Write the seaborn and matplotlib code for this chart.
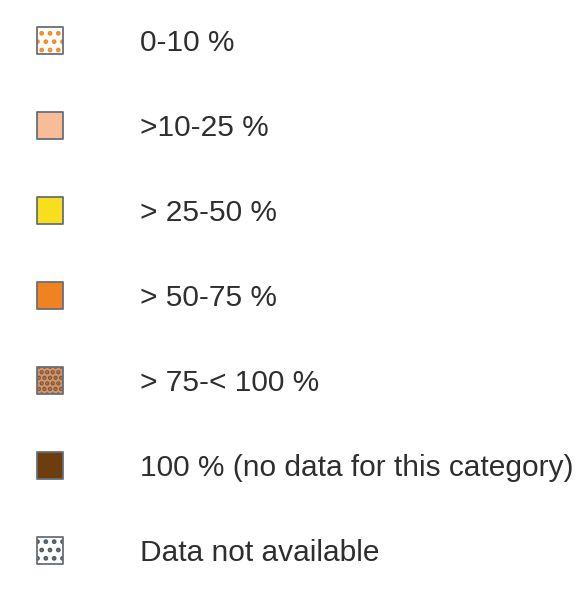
import matplotlib
matplotlib.use("Agg")
import matplotlib.pyplot as plt
import pandas as pd
import seaborn as sns

labels = [
    "0-10 %",
    ">10-25 %",
    "> 25-50 %",
    "> 50-75 %",
    "> 75-< 100 %",
    "100 % (no data for this category)",
    "Data not available",
]
fills = ["#ffffff", "#f6bd97", "#f7df1e", "#f08222", "#c99770", "#6e3d0f", "#ffffff"]
hatch_colors = ["#f08a2a", None, None, None, "#8a5030", None, "#505a6a"]
hatches = ["..", None, None, None, "...", None, ".."]

sns.set_style("white")
plt.rcParams["font.family"] = ["Liberation Sans", "DejaVu Sans"]
plt.rcParams["hatch.linewidth"] = 2.2

df = pd.DataFrame({"label": labels, "x": 0, "y": range(len(labels))})

fig = plt.figure(figsize=(5.76, 5.94), dpi=100)
ax = fig.add_axes([0, 0, 1, 1])
for i, row in df.iterrows():
    one = df.iloc[[i]]
    sns.scatterplot(data=one, x="x", y="y", marker="s", s=370, color=fills[i],
                    edgecolor="none", linewidth=0, ax=ax, legend=False)
    if hatches[i]:
        sns.scatterplot(data=one, x="x", y="y", marker="s", s=370, color="none",
                        ax=ax, legend=False)
        coll = ax.collections[-1]
        coll.set_facecolor("none")
        coll.set_edgecolor(hatch_colors[i])
        coll.set_linewidth(0)
        coll.set_hatch(hatches[i])
    sns.scatterplot(data=one, x="x", y="y", marker="s", s=370, ax=ax, legend=False)
    coll = ax.collections[-1]
    coll.set_facecolor("none")
    coll.set_edgecolor("#6a6e78")
    coll.set_linewidth(1.3)
    ax.text(row["x"] + 1.8, row["y"], row["label"], va="center_baseline", ha="left",
            fontsize=21.5, color="#2e2e2e")

ax.set_xlim(-1, 10.52)
ax.set_ylim(6.512, -0.476)
ax.axis("off")
fig.savefig("out.png", dpi=100)
